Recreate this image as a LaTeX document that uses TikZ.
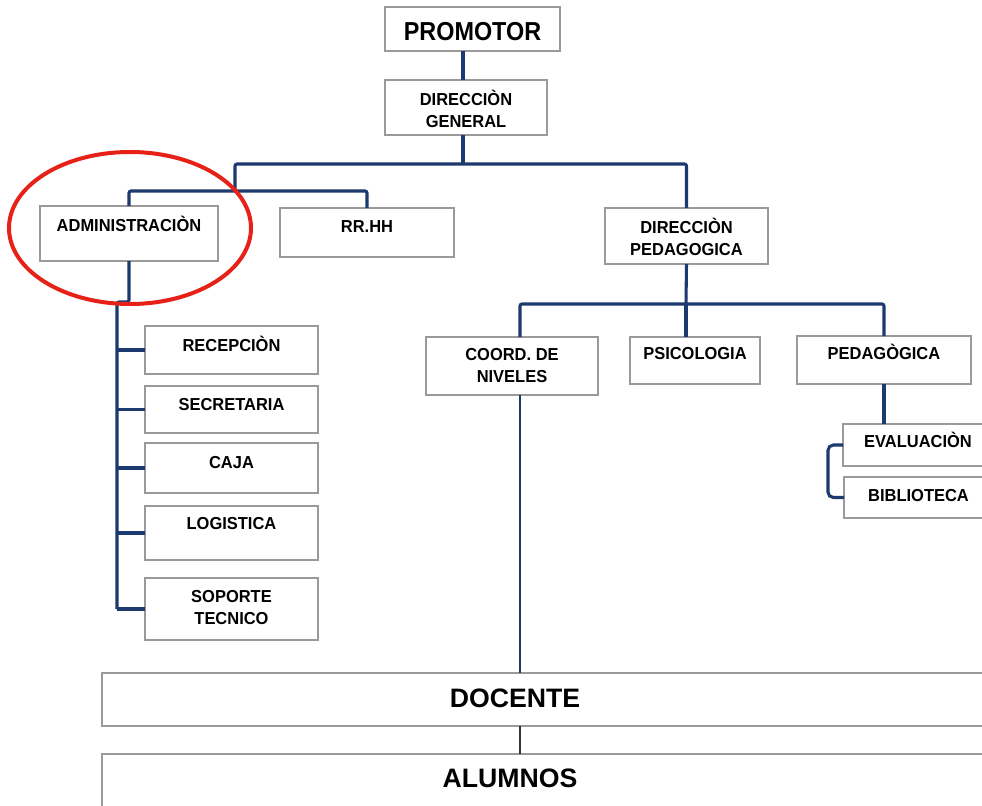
\documentclass[tikz,border=0pt]{standalone}
\usepackage{fontspec}
\setmainfont{Liberation Sans}
\newfontfamily\narrowfont{Liberation Sans}[FakeStretch=0.95]
\newfontfamily\promfont{Liberation Sans}[FakeStretch=0.9]
\usetikzlibrary{shadows}

\definecolor{navy}{HTML}{1C3A6E}
\definecolor{boxline}{HTML}{9A9A9A}
\definecolor{ring}{HTML}{E62117}

\tikzset{
  box/.style={draw=boxline, line width=1.1pt, fill=white, inner sep=0pt, outer sep=0pt,
    anchor=north west,
    drop shadow={shadow xshift=0.8pt, shadow yshift=-0.8pt, fill=black, opacity=0.18}},
  lbl/.style={font={\narrowfont\bfseries\fontsize{13}{16.5}\selectfont},
    align=center, inner sep=0pt},
  one/.style={lbl, text height=9.3pt, text depth=0pt},
  multi/.style={lbl},
  big/.style={font={\promfont\bfseries\fontsize{19.5}{23}\selectfont},
    inner sep=0pt, text height=14pt, text depth=0pt},
  huge/.style={font={\bfseries\fontsize{20}{24}\selectfont},
    inner sep=0pt, text height=14.3pt, text depth=0pt},
  conn/.style={draw=navy, line width=2.3pt, rounded corners=1.5pt},
}

% \orgbox{name}{label style}{x1}{y1}{x2}{y2}{text y}{text}
\newcommand\orgbox[8]{%
  \node[box, minimum width={(#5-#3)*0.75pt}, minimum height={(#6-#4)*0.75pt}] (#1) at (#3,#4) {};
  \node[#2] (#1-t) at ({(#3+#5)/2},#7) {#8};
}

\begin{document}
\begin{tikzpicture}[x=0.75pt, y=-0.75pt]
\useasboundingbox (0,0) rectangle (982,806);
\clip (0,0) rectangle (982,806);
\fill[white] (0,0) rectangle (982,806);

% top of the hierarchy
\orgbox{prom}{big}{385}{7}{560}{51}{31}{PROMOTOR}
\orgbox{dg}{multi}{385}{80}{547}{135}{109}{DIRECCIÒN\\GENERAL}

% administration branch
\orgbox{adm}{one}{40}{206}{218}{261}{225}{ADMINISTRACIÒN}
\orgbox{rrhh}{one}{280}{208}{454}{257}{226}{RR.HH}
\orgbox{rec}{one}{145}{326}{318}{374}{345}{RECEPCIÒN}
\orgbox{sec}{one}{145}{386}{318}{433}{404}{SECRETARIA}
\orgbox{caj}{one}{145}{443}{318}{493}{462}{CAJA}
\orgbox{log}{one}{145}{506}{318}{560}{523}{LOGISTICA}
\orgbox{sop}{multi}{145}{578}{318}{640}{607.5}{SOPORTE\\TECNICO}

% pedagogical branch
\orgbox{dp}{multi}{605}{208}{768}{264}{237}{DIRECCIÒN\\PEDAGOGICA}
\orgbox{coord}{multi}{426}{337}{598}{395}{365.5}{COORD. DE\\NIVELES}
\orgbox{psico}{one}{630}{337}{760}{384}{353}{PSICOLOGIA}
\orgbox{pedag}{one}{797}{336}{971}{384}{353}{PEDAGÒGICA}
\orgbox{eval}{one}{843}{424}{993}{466}{441}{EVALUACIÒN}
\orgbox{bib}{one}{844}{477}{993}{518}{495}{BIBLIOTECA}

% teachers and students
\node[box, minimum width=673.5pt, minimum height=39.75pt] (doc) at (102,673) {};
\node[huge] (doc-t) at (515,698) {DOCENTE};
\node[box, minimum width=673.5pt, minimum height=60pt] (alu) at (102,754) {};
\node[huge] (alu-t) at (510,778) {ALUMNOS};

% junction points
\coordinate (top) at (463,164);
\coordinate (lft) at (235,191);
\coordinate (adv) at (117,302);
\coordinate (dpj) at (686,304);
\coordinate (cj) at (520,304);

% connectors
\draw[conn] (top |- prom.south) -- (top |- dg.north);
\draw[conn] (top |- dg.south) -- (top);
\draw[conn] (lft) -- (lft |- top) -| (dp.north);
\draw[conn] (adm.north) |- (lft) -| (rrhh.north);
\draw[conn] (adm.south) |- (adv) -- (adv |- sop.west);
\foreach \b in {rec,sec,caj,log,sop}
  \draw[conn] (adv |- \b.west) -- (\b.west);

\draw[conn] (dp.south) -- (dpj);
\draw[conn] (cj |- coord.north) |- (dpj) -| (pedag.north);
\draw[conn] (dpj) -- (dpj |- psico.north);
\draw[conn, line width=1.5pt] (cj |- coord.south) -- (cj |- doc.north);
\draw[black!80, line width=1.1pt] (cj |- doc.south) -- (cj |- alu.north);
\draw[conn] (pedag.south) -- (pedag.south |- eval.north);
\draw[conn, rounded corners=4pt] (eval.west) -- ++(-15,0) |- (bib.west);

% highlight ring around the administration box
\draw[ring, line width=3pt] (130,228) ellipse [x radius=90.75pt, y radius=57pt];
\end{tikzpicture}
\end{document}
